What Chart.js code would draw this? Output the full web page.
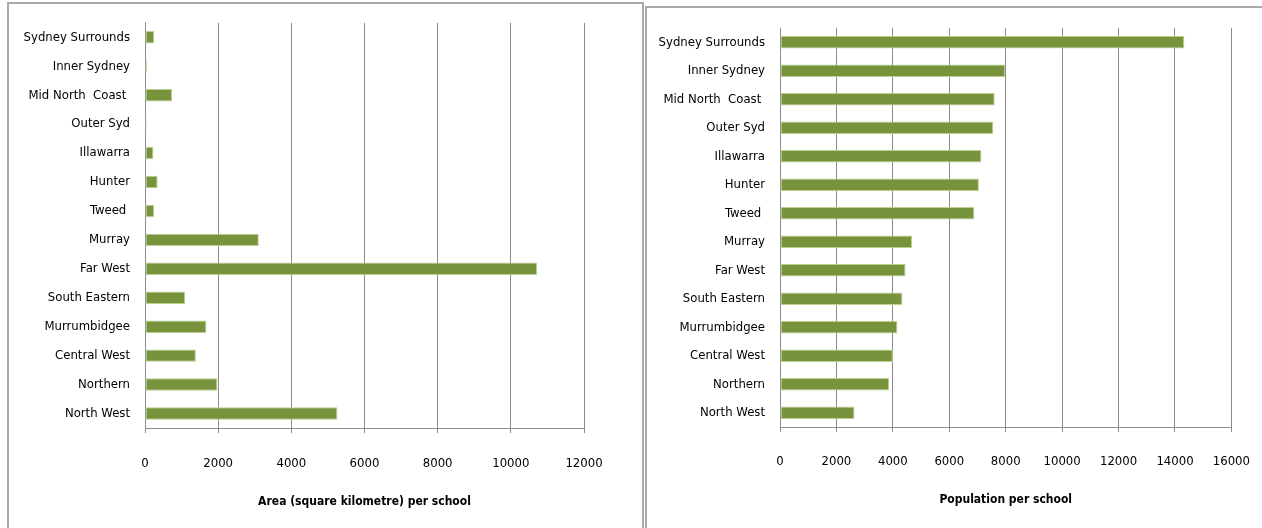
<!DOCTYPE html>
<html>
<head>
<meta charset="utf-8">
<script src="https://cdn.jsdelivr.net/npm/chart.js@4/dist/chart.umd.min.js"></script>
<style>
  html, body { margin: 0; padding: 0; background: #fff; overflow: hidden; }
  body { width: 1262px; height: 528px; position: relative; }
  .panel { position: absolute; border: 2px solid #a9a9a9; box-sizing: border-box; }
  #leftPanel { left: 7px; top: 2px; width: 637px; height: 560px; }
  #rightPanel { left: 645px; top: 6px; width: 640px; height: 560px; }
  .wrap { position: absolute; top: 0; height: 528px; }
  #leftWrap { left: 0; width: 645px; }
  /* runs past the page edge so the last tick label's overflow sits off-screen */
  #rightWrap { left: 645px; width: 627px; }
</style>
</head>
<body>
<div class="panel" id="leftPanel"></div>
<div class="panel" id="rightPanel"></div>
<div class="wrap" id="leftWrap"><canvas id="areaChart"></canvas></div>
<div class="wrap" id="rightWrap"><canvas id="popChart"></canvas></div>
<script>
// regions, top to bottom
const regions = [
    "Sydney Surrounds", "Inner Sydney", "Mid North  Coast ", "Outer Syd",
    "Illawarra", "Hunter", "Tweed ", "Murray", "Far West", "South Eastern",
    "Murrumbidgee", "Central West", "Northern", "North West"
];
// square kilometres per school
const areaPerSchool = [250, 50, 740, 40, 230, 345, 250, 3110, 10720, 1100, 1680, 1390, 1980, 5260];
// residents per school
const populationPerSchool = [14330, 7980, 7610, 7560, 7140, 7050, 6890, 4680, 4450, 4340, 4160, 4000, 3870, 2640];

const areaTicks = { max: 12000, step: 2000 };
const popTicks = { max: 16000, step: 2000 };

Chart.defaults.font.family = "'DejaVu Sans Condensed', 'Liberation Sans', sans-serif";
Chart.defaults.font.size = 13;
Chart.defaults.color = "#000";

const barFill = "#77933c";
const barEdge = "#bcd190";
const gridGrey = "#8c8c8c";

function makeBarChart(canvasId, values, ticks, title, box) {
    const ctx = document.getElementById(canvasId);
    return new Chart(ctx, {
        type: "bar",
        data: {
            labels: regions,
            datasets: [{
                data: values,
                backgroundColor: barFill,
                borderColor: barEdge,
                borderWidth: 1,
                borderSkipped: false,
                barPercentage: 0.43,
                categoryPercentage: 1
            }]
        },
        options: {
            indexAxis: "y",
            responsive: true,
            maintainAspectRatio: false,
            animation: false,
            layout: { padding: { top: box.top, right: box.right, bottom: 0, left: 0 } },
            plugins: { legend: { display: false }, tooltip: { enabled: false } },
            scales: {
                x: {
                    min: 0,
                    max: ticks.max,
                    ticks: {
                        stepSize: ticks.step,
                        padding: box.tickPad,
                        maxRotation: 0,
                        callback: v => String(v)
                    },
                    grid: { color: gridGrey, lineWidth: 1, tickLength: 5, drawTicks: true },
                    border: { display: true, color: gridGrey, width: 1 },
                    title: {
                        display: true,
                        text: title,
                        font: { size: 12, weight: "bold" },
                        padding: { top: 0, bottom: box.titlePad }
                    },
                    afterFit: s => { s.height = box.xHeight; }
                },
                y: {
                    ticks: { padding: 15, autoSkip: false },
                    grid: { display: false, drawTicks: false },
                    border: { display: true, color: gridGrey, width: 1 },
                    afterFit: s => { s.width = box.yWidth; }
                }
            }
        }
    });
}

makeBarChart("areaChart", areaPerSchool, areaTicks, "Area (square kilometre) per school",
    { top: 22, right: 61, yWidth: 145, xHeight: 100, tickPad: 23, titlePad: 19 });
makeBarChart("popChart", populationPerSchool, popTicks, "Population per school",
    { top: 28, right: 0, yWidth: 135, xHeight: 101, tickPad: 22, titlePad: 21 });
</script>
</body>
</html>
